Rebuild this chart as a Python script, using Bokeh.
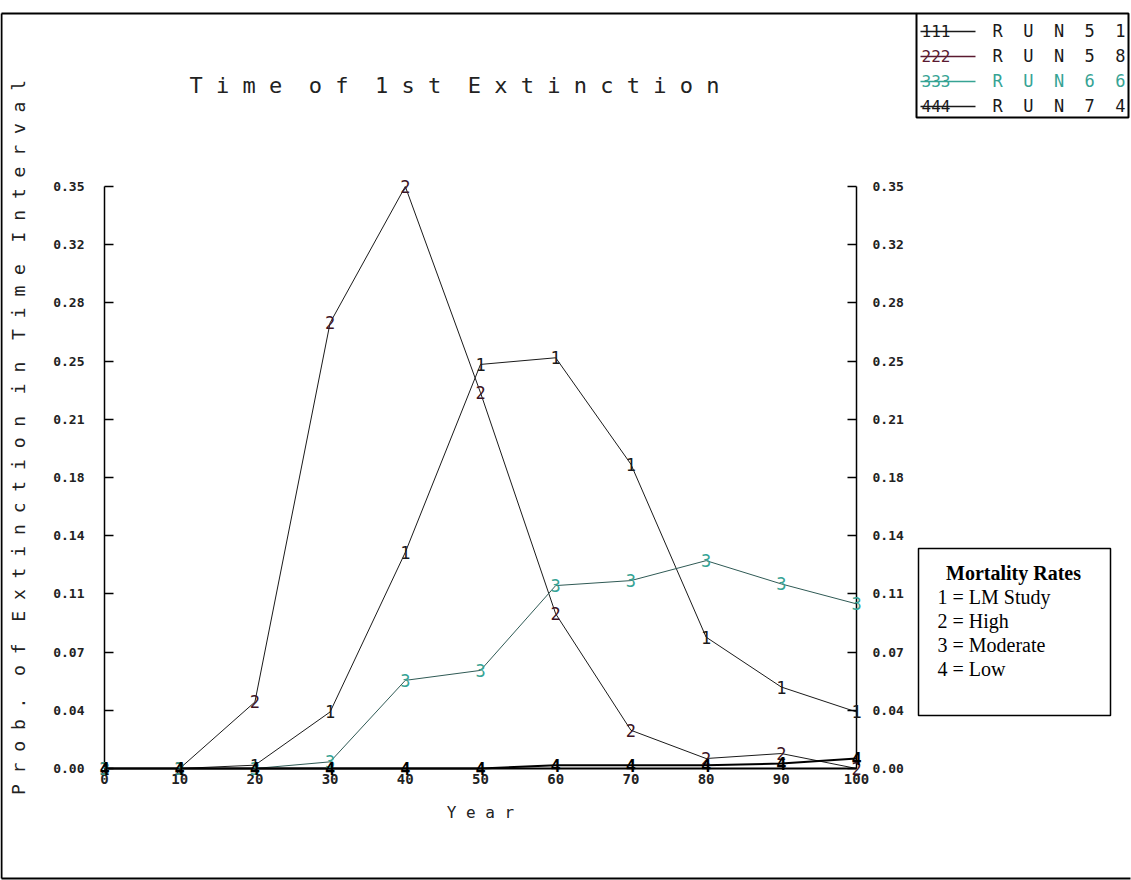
import math
from bokeh.plotting import figure
from bokeh.models import (ColumnDataSource, LabelSet, Label, LinearAxis,
                          FixedTicker, PolyAnnotation, Range1d)
from bokeh.embed import file_html
from bokeh.resources import INLINE
from bokeh.core.properties import value

# ---------------- data ----------------
years = [0, 10, 20, 30, 40, 50, 60, 70, 80, 90, 100]
lm_study = [0.0, 0.0, 0.002, 0.034, 0.130, 0.243, 0.247, 0.183, 0.079, 0.049, 0.034]
high = [0.0, 0.0, 0.040, 0.268, 0.350, 0.226, 0.093, 0.023, 0.006, 0.009, 0.0]
moderate = [0.0, 0.0, 0.0, 0.004, 0.053, 0.059, 0.110, 0.113, 0.125, 0.111, 0.099]
low = [0.0, 0.0, 0.0, 0.0, 0.0, 0.0, 0.002, 0.002, 0.002, 0.003, 0.006]

y_ticks = [0.0, 0.035, 0.07, 0.105, 0.14, 0.175, 0.21, 0.245, 0.28, 0.315, 0.35]
y_tick_labels = ["0.00", "0.04", "0.07", "0.11", "0.14", "0.18",
                 "0.21", "0.25", "0.28", "0.32", "0.35"]
series_codes = ["1", "2", "3", "4"]
run_names = ["RUN 51", "RUN 58", "RUN 66", "RUN 74"]
legend_samples = ["111", "222", "333", "444"]
mortality_title = "Mortality Rates"
mortality_labels = ["1 = LM Study", "2 = High", "3 = Moderate", "4 = Low"]
title_text = "Time of 1st Extinction"
x_title = "Year"
y_title = "Prob. of Extinction in Time Interval"

# ---------------- layout helpers (pixel positions of the plot area) ----------------
W, H = 1131, 880
L, R, T, B = 104, 856, 186, 768
MONO = "DejaVu Sans Mono"
SERIF = "Liberation Serif"
NB = "\u00a0"


def dx(px):
    return (px - L) / (R - L) * 100.0


def dy(py):
    return (B - py) / (B - T) * 0.35


def spaced(s, word_gap=" " + NB):
    # letter-spaced text like the original bitmap font
    return word_gap.join(" ".join(w) for w in s.split())


p = figure(width=W, height=H,
           x_range=Range1d(dx(0), dx(W)), y_range=Range1d(dy(H), dy(0)),
           output_backend="svg", toolbar_location=None, title=None,
           min_border=0)
p.xgrid.visible = False
p.ygrid.visible = False
p.outline_line_color = None
p.background_fill_color = "white"
p.border_fill_color = "white"

# x axis (drawn at y = 0)
xa = p.xaxis[0]
xa.fixed_location = 0.0
xa.bounds = (0, 100)
xa.ticker = FixedTicker(ticks=years)
xa.major_tick_in = 0
xa.major_tick_out = 0
xa.minor_tick_in = 0
xa.minor_tick_out = 0
xa.axis_line_width = 2
xa.axis_line_color = "black"
xa.major_label_text_font = MONO
xa.major_label_text_font_style = "bold"
xa.major_label_text_font_size = "14px"
xa.major_label_text_color = "#222222"
xa.major_label_standoff = 5
xa.axis_label = spaced(x_title)
xa.axis_label_text_font = MONO
xa.axis_label_text_font_style = "normal"
xa.axis_label_text_font_size = "16px"
xa.axis_label_text_color = "#222222"
xa.axis_label_standoff = 16


def style_y(ax, loc, standoff):
    ax.fixed_location = loc
    ax.bounds = (0, 0.35)
    ax.ticker = FixedTicker(ticks=y_ticks)
    ax.major_label_overrides = dict(zip(y_ticks, y_tick_labels))
    ax.major_tick_in = 9
    ax.major_tick_out = 0
    ax.minor_tick_in = 0
    ax.minor_tick_out = 0
    ax.axis_line_width = 1.5
    ax.axis_line_color = "black"
    ax.major_tick_line_width = 1.5
    ax.major_label_text_font = MONO
    ax.major_label_text_font_style = "bold"
    ax.major_label_text_font_size = "13px"
    ax.major_label_text_color = "#222222"
    ax.major_label_standoff = standoff


style_y(p.yaxis[0], 0.0, 20)
ra = LinearAxis()
style_y(ra, 100.0, 16)
p.add_layout(ra, "right")

# ---------------- series ----------------
series_vals = [lm_study, high, moderate, low]
line_colors = ["#1a1a1a", "#1a1a1a", "#2f5a55", "#000000"]
text_colors = ["#1a1a1a", "#3d1424", "#36a394", "#000000"]
line_widths = [1, 1, 1, 2]

sources = []
for vals, code in zip(series_vals, series_codes):
    sources.append(ColumnDataSource(dict(x=years, y=vals, t=[code] * len(years))))

for src, lc, lw in zip(sources, line_colors, line_widths):
    p.line("x", "y", source=src, line_color=lc, line_width=lw)

for src, tc, code in zip(sources, text_colors, series_codes):
    p.add_layout(LabelSet(x="x", y="y", text="t", source=src,
                          text_align="center", text_baseline="middle",
                          text_font=value(MONO), text_font_size="17px",
                          text_font_style="bold" if code == "4" else "normal",
                          text_color=tc))

# ---------------- texts ----------------
p.add_layout(Label(x=dx(454), y=dy(85), text=spaced(title_text),
                   text_align="center", text_baseline="middle",
                   text_font=MONO, text_font_size="22px", text_color="#222222"))

p.add_layout(Label(x=dx(18), y=dy(437), text=spaced(y_title), angle=math.pi / 2,
                   text_align="center", text_baseline="middle",
                   text_font=MONO, text_font_size="18px", text_color="#222222"))


def poly(xs_px, ys_px, lw=1.5, color="black"):
    p.add_layout(PolyAnnotation(xs=[dx(v) for v in xs_px], ys=[dy(v) for v in ys_px],
                                fill_alpha=0, line_alpha=1.0,
                                line_color=color, line_width=lw))


def rect(x0, y0, x1, y1, lw=1.5, color="black"):
    poly([x0, x1, x1, x0], [y0, y0, y1, y1], lw=lw, color=color)


# page border (left, top and bottom edges)
poly([1, 1], [13, 878], lw=2)
poly([1, 916], [13, 13], lw=2)
poly([1, 1130], [878, 878], lw=2)

# run legend (top right)
rect(916, 13, 1128, 117, lw=2)
sample_colors = ["#1a1a1a", "#5a1a30", "#36a394", "#1a1a1a"]
run_colors = ["#1a1a1a", "#1a1a1a", "#36a394", "#1a1a1a"]
for i, (smp, run) in enumerate(zip(legend_samples, run_names)):
    yy = 30 + 25 * i
    p.add_layout(Label(x=dx(921), y=dy(yy), text=smp, text_align="left",
                       text_baseline="middle", text_font=MONO,
                       text_font_size="16px", text_color=sample_colors[i]))
    poly([920, 975], [yy + 1, yy + 1], lw=1.3, color=sample_colors[i])
    p.add_layout(Label(x=dx(992), y=dy(yy),
                       text=(" " + NB).join(run.replace(" ", "")),
                       text_align="left", text_baseline="middle", text_font=MONO,
                       text_font_size="17px", text_color=run_colors[i]))

# mortality rates box
rect(918, 548, 1110, 715, lw=1.5)
p.add_layout(Label(x=dx(1013), y=dy(572), text=mortality_title, text_align="center",
                   text_baseline="middle", text_font=SERIF, text_font_style="bold",
                   text_font_size="20px", text_color="black"))
for i, lab in enumerate(mortality_labels):
    p.add_layout(Label(x=dx(937), y=dy(596 + 24 * i), text=lab, text_align="left",
                       text_baseline="middle", text_font=SERIF,
                       text_font_size="20px", text_color="black"))

open("out.html", "w").write(file_html(p, INLINE))
